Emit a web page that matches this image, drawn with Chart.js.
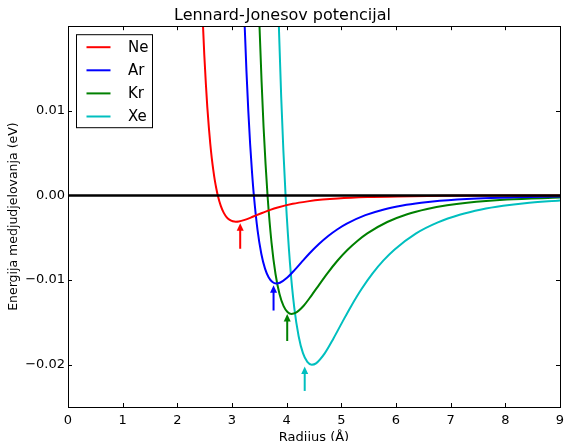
<!DOCTYPE html>
<html>
<head>
<meta charset="utf-8">
<script src="https://cdn.jsdelivr.net/npm/chart.js@4.4.1/dist/chart.umd.min.js"></script>
<style>
html, body { margin: 0; padding: 0; background: #fff; }
#wrap { width: 565px; height: 441px; position: relative; }
</style>
</head>
<body>
<div id="wrap"><canvas id="lj"></canvas></div>
<script>
var elements = ["Ne", "Ar", "Kr", "Xe"];
var colors = ["rgb(255,0,0)", "rgb(0,0,255)", "rgb(0,128,0)", "rgb(0,191,191)"];

// Ne
var neX = [2.439, 2.466, 2.493, 2.521, 2.548, 2.576, 2.603, 2.630, 2.658, 2.685, 2.713, 2.740,
    2.795, 2.850, 2.904, 2.959, 3.014, 3.069, 3.124, 3.233, 3.343, 3.452, 3.562, 3.699, 3.836,
    4.110, 4.384, 4.658, 4.932, 5.480, 6.028, 6.850, 8.220, 9.0];
var neY = [0.02525, 0.02057, 0.01662, 0.01328, 0.01046, 0.00808, 0.00608, 0.00440, 0.00299, 0.00180, 0.00082, 0,
    -0.00123, -0.00206, -0.00258, -0.00289, -0.00305, -0.00310, -0.00308, -0.00289, -0.00262, -0.00232, -0.00204, -0.00171, -0.00143,
    -0.00099, -0.00070, -0.00049, -0.00035, -0.00019, -0.00011, -0.00005, -0.000017, -0.00001];

// Ar
var arX = [3.196, 3.230, 3.264, 3.298, 3.332, 3.366, 3.400, 3.468, 3.536, 3.604, 3.672, 3.740, 3.808,
    3.876, 4.012, 4.148, 4.284, 4.420, 4.590, 4.760, 4.930, 5.100, 5.440, 5.780, 6.120, 6.460,
    6.800, 7.480, 8.160, 9.0];
var arY = [0.02711, 0.02039, 0.01475, 0.01002, 0.00605, 0.00275, 0, -0.00414, -0.00689, -0.00865, -0.00969, -0.01023, -0.01040,
    -0.01032, -0.00970, -0.00879, -0.00780, -0.00683, -0.00574, -0.00479, -0.00399, -0.00333, -0.00233, -0.00165, -0.00119, -0.00087,
    -0.00064, -0.00036, -0.00022, -0.00012];

// Kr
var krX = [3.468, 3.504, 3.541, 3.577, 3.614, 3.650, 3.723, 3.796, 3.869, 3.942, 4.015, 4.088, 4.161,
    4.307, 4.453, 4.599, 4.745, 4.928, 5.110, 5.293, 5.475, 5.840, 6.205, 6.570, 6.935, 7.300,
    8.030, 9.0];
var krY = [0.02745, 0.01985, 0.01348, 0.00815, 0.00370, 0, -0.00557, -0.00928, -0.01165, -0.01305, -0.01377, -0.01400, -0.01389,
    -0.01306, -0.01183, -0.01050, -0.00920, -0.00772, -0.00645, -0.00538, -0.00448, -0.00314, -0.00222, -0.00160, -0.00116, -0.00086,
    -0.00049, -0.00025];

// Xe
var xeX = [3.821, 3.861, 3.900, 3.940, 3.980, 4.060, 4.139, 4.219, 4.298, 4.378, 4.458, 4.537,
    4.696, 4.856, 5.015, 5.174, 5.373, 5.572, 5.771, 5.970, 6.368, 6.766, 7.164, 7.562, 7.960,
    8.358, 9.0];
var xeY = [0.02836, 0.01926, 0.01164, 0.00528, 0, -0.00796, -0.01326, -0.01664, -0.01864, -0.01967, -0.02000, -0.01984,
    -0.01866, -0.01690, -0.01500, -0.01314, -0.01103, -0.00921, -0.00768, -0.00641, -0.00448, -0.00318, -0.00228, -0.00166, -0.00123,
    -0.00092, -0.00059];

// arrows under the minima
var arrowX = [3.15, 3.76, 4.01, 4.33];
var arrowTip = [-0.0033, -0.0106, -0.0140, -0.0202];
var arrowTail = [-0.0063, -0.0136, -0.0172, -0.0231];

var xTicks = [0, 1, 2, 3, 4, 5, 6, 7, 8, 9];
var yTicks = [-0.02, -0.01, 0, 0.01];

var FONT = "'DejaVu Sans', sans-serif";

function pairs(xs, ys) {
    let out = [];
    for (let i = 0; i < xs.length; i++) out.push({x: xs[i], y: ys[i]});
    return out;
}

var seriesX = [neX, arX, krX, xeX];
var seriesY = [neY, arY, krY, xeY];

var datasets = [{
    label: "zero",
    data: [{x: 0, y: 0}, {x: 9, y: 0}],
    borderColor: "#000",
    borderWidth: 2.5,
    pointRadius: 0,
    clip: 0
}];
for (let i = 0; i < elements.length; i++) {
    datasets.push({
        label: elements[i],
        data: pairs(seriesX[i], seriesY[i]),
        borderColor: colors[i],
        backgroundColor: colors[i],
        borderWidth: 2,
        pointRadius: 0,
        cubicInterpolationMode: "monotone",
        clip: 0
    });
}

var framePlugin = {
    id: "frame",
    afterDatasetsDraw: function (chart) {
        let ctx = chart.ctx;
        let a = chart.chartArea;
        let xs = chart.scales.x, ys = chart.scales.y;
        ctx.save();

        // arrows
        for (let i = 0; i < arrowX.length; i++) {
            let px = xs.getPixelForValue(arrowX[i]);
            let tip = ys.getPixelForValue(arrowTip[i]);
            let tail = ys.getPixelForValue(arrowTail[i]);
            ctx.strokeStyle = colors[i];
            ctx.fillStyle = colors[i];
            ctx.lineWidth = 2;
            ctx.beginPath();
            ctx.moveTo(px, tail);
            ctx.lineTo(px, tip + 6);
            ctx.stroke();
            ctx.beginPath();
            ctx.moveTo(px, tip);
            ctx.lineTo(px - 3.5, tip + 7.5);
            ctx.lineTo(px + 3.5, tip + 7.5);
            ctx.closePath();
            ctx.fill();
        }

        // frame + inward ticks
        ctx.strokeStyle = "#000";
        ctx.lineWidth = 1;
        ctx.strokeRect(Math.round(a.left) + 0.5, Math.round(a.top) + 0.5,
            Math.round(a.right) - Math.round(a.left), Math.round(a.bottom) - Math.round(a.top));
        ctx.beginPath();
        for (let v of xTicks) {
            let px = Math.round(xs.getPixelForValue(v)) + 0.5;
            ctx.moveTo(px, a.bottom); ctx.lineTo(px, a.bottom - 4);
            ctx.moveTo(px, a.top); ctx.lineTo(px, a.top + 4);
        }
        for (let v of yTicks) {
            let py = Math.round(ys.getPixelForValue(v)) + 0.5;
            ctx.moveTo(a.left, py); ctx.lineTo(a.left + 4, py);
            ctx.moveTo(a.right, py); ctx.lineTo(a.right - 4, py);
        }
        ctx.stroke();

        // legend
        let lx = a.left + 8.5, ly = a.top + 8.5;
        ctx.fillStyle = "#fff";
        ctx.fillRect(lx, ly, 76, 93);
        ctx.strokeStyle = "#000";
        ctx.strokeRect(lx, ly, 76, 93);
        ctx.font = "15px " + FONT;
        ctx.textBaseline = "middle";
        ctx.textAlign = "left";
        let items = chart.data.datasets.filter(d => d.label !== "zero");
        for (let i = 0; i < items.length; i++) {
            let y = ly + 12.5 + i * 23.1;
            ctx.strokeStyle = items[i].borderColor;
            ctx.lineWidth = 2;
            ctx.beginPath();
            ctx.moveTo(lx + 10, y);
            ctx.lineTo(lx + 34, y);
            ctx.stroke();
            ctx.fillStyle = "#000";
            ctx.fillText(items[i].label, lx + 51.5, y + 1);
        }
        ctx.restore();
    }
};

Chart.defaults.color = "#000";
Chart.defaults.font.family = FONT;

new Chart(document.getElementById("lj").getContext("2d"), {
    type: "line",
    data: {datasets: datasets},
    options: {
        responsive: true,
        maintainAspectRatio: false,
        animation: false,
        layout: {padding: {left: 0, right: 0, top: 0, bottom: 0}},
        plugins: {
            legend: {display: false},
            tooltip: {enabled: false},
            title: {
                display: true,
                text: "Lennard-Jonesov potencijal",
                font: {size: 16, weight: "normal", family: FONT},
                color: "#000",
                padding: {top: 6, bottom: 1}
            }
        },
        scales: {
            x: {
                type: "linear",
                min: 0,
                max: 9,
                grid: {display: false, drawTicks: false},
                border: {display: false},
                afterBuildTicks: function (s) { s.ticks = xTicks.map(v => ({value: v})); },
                afterFit: function (s) {
                    s.height = 34;
                    s.paddingLeft = 0;
                    s.paddingRight = 5;
                },
                ticks: {
                    padding: 6,
                    font: {size: 13},
                    maxRotation: 0,
                    callback: function (v) { return String(v); }
                },
                title: {
                    display: true,
                    text: "Radijus (Å)",
                    font: {size: 13, lineHeight: 1},
                    padding: {top: 0, bottom: -3}
                }
            },
            y: {
                type: "linear",
                min: -0.025,
                max: 0.02,
                grid: {display: false, drawTicks: false},
                border: {display: false},
                afterBuildTicks: function (s) { s.ticks = yTicks.map(v => ({value: v})); },
                afterFit: function (s) { s.width = 68; },
                ticks: {
                    padding: 3,
                    font: {size: 13},
                    callback: function (v) {
                        return (v < 0 ? "\u2212" : "") + Math.abs(v).toFixed(2);
                    }
                },
                title: {
                    display: true,
                    text: "Energija medjudjelovanja (eV)",
                    font: {size: 12.5, lineHeight: 1},
                    padding: {top: 7, bottom: 0}
                }
            }
        }
    },
    plugins: [framePlugin]
});
</script>
</body>
</html>
